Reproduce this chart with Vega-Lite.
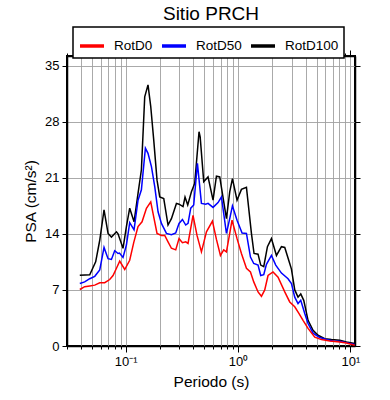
{
  "$schema": "https://vega.github.io/schema/vega-lite/v6.json",
  "width": 288,
  "height": 290,
  "autosize": {"type": "none"},
  "padding": {"left": 67, "top": 56, "right": 35, "bottom": 54},
  "background": "white",
  "title": {"text": "Sitio PRCH", "fontSize": 19, "fontWeight": "normal", "font": "Liberation Sans", "color": "black", "anchor": "middle", "offset": 2},
  "config": {
    "font": "Liberation Sans",
    "view": {"stroke": "black", "strokeWidth": 2},
    "legend": {"strokeColor": "black", "strokeWidth": 1.5},
    "axis": {"domainColor": "black", "domainWidth": 1.5, "tickColor": "black", "tickWidth": 1, "gridColor": "#a0a0a0", "gridWidth": 0.9, "labelFontSize": 13, "labelColor": "black", "titleFontSize": 15.5, "titleFontWeight": "normal", "titleColor": "black", "labelFont": "Liberation Sans", "titleFont": "Liberation Sans"}
  },
  "data": {"values": [
    {"T":0.039,"PSA":8.84,"s":"RotD100"},{"T":0.0478,"PSA":8.9,"s":"RotD100"},{"T":0.054,"PSA":10.5,"s":"RotD100"},{"T":0.0587,"PSA":13.2,"s":"RotD100"},{"T":0.0641,"PSA":17.0,"s":"RotD100"},{"T":0.0696,"PSA":14.05,"s":"RotD100"},{"T":0.0746,"PSA":13.6,"s":"RotD100"},{"T":0.0827,"PSA":14.25,"s":"RotD100"},{"T":0.0854,"PSA":14.0,"s":"RotD100"},{"T":0.0946,"PSA":12.2,"s":"RotD100"},{"T":0.1014,"PSA":14.9,"s":"RotD100"},{"T":0.1085,"PSA":17.2,"s":"RotD100"},{"T":0.1186,"PSA":15.5,"s":"RotD100"},{"T":0.1287,"PSA":19.05,"s":"RotD100"},{"T":0.1379,"PSA":22.0,"s":"RotD100"},{"T":0.1476,"PSA":31.1,"s":"RotD100"},{"T":0.1579,"PSA":32.6,"s":"RotD100"},{"T":0.167,"PSA":29.9,"s":"RotD100"},{"T":0.1776,"PSA":25.7,"s":"RotD100"},{"T":0.19,"PSA":20.7,"s":"RotD100"},{"T":0.2009,"PSA":18.6,"s":"RotD100"},{"T":0.2181,"PSA":18.4,"s":"RotD100"},{"T":0.238,"PSA":15.1,"s":"RotD100"},{"T":0.2552,"PSA":15.9,"s":"RotD100"},{"T":0.2828,"PSA":17.8,"s":"RotD100"},{"T":0.2983,"PSA":17.7,"s":"RotD100"},{"T":0.3238,"PSA":17.4,"s":"RotD100"},{"T":0.3373,"PSA":18.6,"s":"RotD100"},{"T":0.3565,"PSA":17.6,"s":"RotD100"},{"T":0.3846,"PSA":19.25,"s":"RotD100"},{"T":0.4115,"PSA":20.3,"s":"RotD100"},{"T":0.4494,"PSA":26.75,"s":"RotD100"},{"T":0.46,"PSA":26.1,"s":"RotD100"},{"T":0.495,"PSA":20.5,"s":"RotD100"},{"T":0.5406,"PSA":21.1,"s":"RotD100"},{"T":0.599,"PSA":18.2,"s":"RotD100"},{"T":0.6422,"PSA":21.2,"s":"RotD100"},{"T":0.6871,"PSA":21.1,"s":"RotD100"},{"T":0.7883,"PSA":15.9,"s":"RotD100"},{"T":0.8434,"PSA":19.25,"s":"RotD100"},{"T":0.8916,"PSA":20.9,"s":"RotD100"},{"T":0.9797,"PSA":18.2,"s":"RotD100"},{"T":1.072,"PSA":19.55,"s":"RotD100"},{"T":1.188,"PSA":19.8,"s":"RotD100"},{"T":1.316,"PSA":14.05,"s":"RotD100"},{"T":1.388,"PSA":11.55,"s":"RotD100"},{"T":1.507,"PSA":11.46,"s":"RotD100"},{"T":1.592,"PSA":10.1,"s":"RotD100"},{"T":1.694,"PSA":9.9,"s":"RotD100"},{"T":1.827,"PSA":12.4,"s":"RotD100"},{"T":1.983,"PSA":13.4,"s":"RotD100"},{"T":2.198,"PSA":11.3,"s":"RotD100"},{"T":2.435,"PSA":12.4,"s":"RotD100"},{"T":2.606,"PSA":12.3,"s":"RotD100"},{"T":2.886,"PSA":10.3,"s":"RotD100"},{"T":2.989,"PSA":9.6,"s":"RotD100"},{"T":3.198,"PSA":7.0,"s":"RotD100"},{"T":3.421,"PSA":6.1,"s":"RotD100"},{"T":3.617,"PSA":6.5,"s":"RotD100"},{"T":3.846,"PSA":5.7,"s":"RotD100"},{"T":4.201,"PSA":3.2,"s":"RotD100"},{"T":4.655,"PSA":1.96,"s":"RotD100"},{"T":5.157,"PSA":1.34,"s":"RotD100"},{"T":5.916,"PSA":0.92,"s":"RotD100"},{"T":6.788,"PSA":0.8,"s":"RotD100"},{"T":8.045,"PSA":0.71,"s":"RotD100"},{"T":9.233,"PSA":0.5,"s":"RotD100"},{"T":10.94,"PSA":0.3,"s":"RotD100"},
    {"T":0.039,"PSA":7.8,"s":"RotD50"},{"T":0.0431,"PSA":8.0,"s":"RotD50"},{"T":0.0478,"PSA":8.4,"s":"RotD50"},{"T":0.053,"PSA":8.7,"s":"RotD50"},{"T":0.0587,"PSA":9.5,"s":"RotD50"},{"T":0.0641,"PSA":12.3,"s":"RotD50"},{"T":0.0696,"PSA":10.9,"s":"RotD50"},{"T":0.0746,"PSA":10.8,"s":"RotD50"},{"T":0.0798,"PSA":11.9,"s":"RotD50"},{"T":0.0854,"PSA":11.55,"s":"RotD50"},{"T":0.088,"PSA":11.6,"s":"RotD50"},{"T":0.0946,"PSA":11.05,"s":"RotD50"},{"T":0.1014,"PSA":12.6,"s":"RotD50"},{"T":0.1085,"PSA":15.4,"s":"RotD50"},{"T":0.1186,"PSA":14.5,"s":"RotD50"},{"T":0.1287,"PSA":18.2,"s":"RotD50"},{"T":0.1379,"PSA":19.5,"s":"RotD50"},{"T":0.1497,"PSA":24.7,"s":"RotD50"},{"T":0.1579,"PSA":24.05,"s":"RotD50"},{"T":0.1694,"PSA":22.4,"s":"RotD50"},{"T":0.1813,"PSA":19.9,"s":"RotD50"},{"T":0.194,"PSA":16.75,"s":"RotD50"},{"T":0.2079,"PSA":15.3,"s":"RotD50"},{"T":0.2304,"PSA":14.05,"s":"RotD50"},{"T":0.2552,"PSA":13.9,"s":"RotD50"},{"T":0.2787,"PSA":14.1,"s":"RotD50"},{"T":0.2983,"PSA":15.3,"s":"RotD50"},{"T":0.3198,"PSA":15.8,"s":"RotD50"},{"T":0.3422,"PSA":15.1,"s":"RotD50"},{"T":0.3587,"PSA":15.3,"s":"RotD50"},{"T":0.3792,"PSA":17.2,"s":"RotD50"},{"T":0.4031,"PSA":17.6,"s":"RotD50"},{"T":0.4349,"PSA":22.8,"s":"RotD50"},{"T":0.4721,"PSA":17.8,"s":"RotD50"},{"T":0.5159,"PSA":17.7,"s":"RotD50"},{"T":0.5406,"PSA":17.8,"s":"RotD50"},{"T":0.599,"PSA":17.3,"s":"RotD50"},{"T":0.6636,"PSA":17.9,"s":"RotD50"},{"T":0.7116,"PSA":18.6,"s":"RotD50"},{"T":0.7883,"PSA":14.05,"s":"RotD50"},{"T":0.8434,"PSA":15.9,"s":"RotD50"},{"T":0.8916,"PSA":17.5,"s":"RotD50"},{"T":0.9797,"PSA":15.7,"s":"RotD50"},{"T":1.086,"PSA":14.1,"s":"RotD50"},{"T":1.188,"PSA":14.05,"s":"RotD50"},{"T":1.29,"PSA":11.1,"s":"RotD50"},{"T":1.38,"PSA":10.3,"s":"RotD50"},{"T":1.507,"PSA":10.1,"s":"RotD50"},{"T":1.592,"PSA":8.8,"s":"RotD50"},{"T":1.694,"PSA":8.9,"s":"RotD50"},{"T":1.79,"PSA":10.2,"s":"RotD50"},{"T":1.983,"PSA":11.3,"s":"RotD50"},{"T":2.166,"PSA":10.1,"s":"RotD50"},{"T":2.435,"PSA":9.1,"s":"RotD50"},{"T":2.788,"PSA":8.4,"s":"RotD50"},{"T":2.989,"PSA":7.8,"s":"RotD50"},{"T":3.198,"PSA":6.1,"s":"RotD50"},{"T":3.421,"PSA":5.3,"s":"RotD50"},{"T":3.617,"PSA":5.7,"s":"RotD50"},{"T":3.926,"PSA":4.05,"s":"RotD50"},{"T":4.201,"PSA":2.8,"s":"RotD50"},{"T":4.655,"PSA":1.6,"s":"RotD50"},{"T":5.34,"PSA":1.05,"s":"RotD50"},{"T":6.127,"PSA":0.8,"s":"RotD50"},{"T":7.018,"PSA":0.63,"s":"RotD50"},{"T":8.045,"PSA":0.6,"s":"RotD50"},{"T":9.233,"PSA":0.42,"s":"RotD50"},{"T":10.94,"PSA":0.2,"s":"RotD50"},
    {"T":0.039,"PSA":7.05,"s":"RotD0"},{"T":0.0431,"PSA":7.4,"s":"RotD0"},{"T":0.0478,"PSA":7.5,"s":"RotD0"},{"T":0.053,"PSA":7.6,"s":"RotD0"},{"T":0.0587,"PSA":7.9,"s":"RotD0"},{"T":0.065,"PSA":7.9,"s":"RotD0"},{"T":0.072,"PSA":8.3,"s":"RotD0"},{"T":0.0771,"PSA":8.8,"s":"RotD0"},{"T":0.0827,"PSA":9.7,"s":"RotD0"},{"T":0.0884,"PSA":10.6,"s":"RotD0"},{"T":0.098,"PSA":9.55,"s":"RotD0"},{"T":0.1085,"PSA":10.7,"s":"RotD0"},{"T":0.1178,"PSA":12.9,"s":"RotD0"},{"T":0.1287,"PSA":14.9,"s":"RotD0"},{"T":0.1397,"PSA":15.5,"s":"RotD0"},{"T":0.1529,"PSA":17.2,"s":"RotD0"},{"T":0.167,"PSA":18.0,"s":"RotD0"},{"T":0.175,"PSA":16.55,"s":"RotD0"},{"T":0.19,"PSA":14.05,"s":"RotD0"},{"T":0.2079,"PSA":13.8,"s":"RotD0"},{"T":0.2226,"PSA":13.8,"s":"RotD0"},{"T":0.238,"PSA":13.0,"s":"RotD0"},{"T":0.2552,"PSA":12.2,"s":"RotD0"},{"T":0.2787,"PSA":12.0,"s":"RotD0"},{"T":0.2983,"PSA":13.4,"s":"RotD0"},{"T":0.3198,"PSA":12.9,"s":"RotD0"},{"T":0.3422,"PSA":13.0,"s":"RotD0"},{"T":0.3587,"PSA":12.8,"s":"RotD0"},{"T":0.3974,"PSA":16.3,"s":"RotD0"},{"T":0.4313,"PSA":13.8,"s":"RotD0"},{"T":0.4721,"PSA":11.75,"s":"RotD0"},{"T":0.5233,"PSA":14.25,"s":"RotD0"},{"T":0.5916,"PSA":15.6,"s":"RotD0"},{"T":0.6422,"PSA":13.3,"s":"RotD0"},{"T":0.6972,"PSA":11.3,"s":"RotD0"},{"T":0.7456,"PSA":12.0,"s":"RotD0"},{"T":0.7883,"PSA":11.75,"s":"RotD0"},{"T":0.8434,"PSA":14.05,"s":"RotD0"},{"T":0.8843,"PSA":15.7,"s":"RotD0"},{"T":0.9797,"PSA":13.4,"s":"RotD0"},{"T":1.072,"PSA":11.55,"s":"RotD0"},{"T":1.188,"PSA":9.7,"s":"RotD0"},{"T":1.29,"PSA":9.25,"s":"RotD0"},{"T":1.38,"PSA":8.0,"s":"RotD0"},{"T":1.507,"PSA":6.75,"s":"RotD0"},{"T":1.616,"PSA":6.2,"s":"RotD0"},{"T":1.729,"PSA":7.0,"s":"RotD0"},{"T":1.85,"PSA":8.8,"s":"RotD0"},{"T":2.049,"PSA":9.25,"s":"RotD0"},{"T":2.271,"PSA":8.6,"s":"RotD0"},{"T":2.606,"PSA":6.75,"s":"RotD0"},{"T":2.886,"PSA":5.5,"s":"RotD0"},{"T":3.198,"PSA":4.9,"s":"RotD0"},{"T":3.493,"PSA":4.05,"s":"RotD0"},{"T":3.792,"PSA":3.2,"s":"RotD0"},{"T":4.201,"PSA":2.2,"s":"RotD0"},{"T":4.82,"PSA":1.1,"s":"RotD0"},{"T":5.529,"PSA":0.8,"s":"RotD0"},{"T":6.556,"PSA":0.63,"s":"RotD0"},{"T":8.045,"PSA":0.5,"s":"RotD0"},{"T":9.233,"PSA":0.38,"s":"RotD0"},{"T":10.94,"PSA":0.1,"s":"RotD0"}
  ]},
  "layer": [
    {
      "mark": {"type": "line", "strokeWidth": 1.5, "clip": true},
      "encoding": {
        "x": {"field": "T", "type": "quantitative",
          "scale": {"type": "log", "domain": [0.03, 11], "nice": false},
          "axis": {"orient": "bottom", "title": "Periodo (s)", "titlePadding": 6,
            "values": [0.03,0.04,0.05,0.06,0.07,0.08,0.09,0.1,0.2,0.3,0.4,0.5,0.6,0.7,0.8,0.9,1,2,3,4,5,6,7,8,9,10],
            "labelExpr": "datum.value == 0.1 ? '10⁻¹' : datum.value == 1 ? '10⁰' : datum.value == 10 ? '10¹' : ''",
            "grid": true, "tickSize": {"condition": {"test": "datum.value == 0.1 || datum.value == 1 || datum.value == 10", "value": 6}, "value": 3},
            "labelPadding": 3, "labelFlush": false}},
        "y": {"field": "PSA", "type": "quantitative",
          "scale": {"domain": [0, 36.2], "nice": false, "zero": true},
          "axis": {"orient": "left", "title": "PSA (cm/s²)", "values": [0, 7, 14, 21, 28, 35], "grid": true, "tickSize": 5, "labelPadding": 3, "titlePadding": 6}},
        "color": {"field": "s", "type": "nominal",
          "scale": {"domain": ["RotD0", "RotD50", "RotD100"], "range": ["#ff0000", "#0000ff", "#000000"]},
          "legend": {"title": null, "orient": "none", "legendX": 6, "legendY": -29, "direction": "horizontal",
            "strokeColor": "black", "fillColor": "white", "padding": 5,
            "symbolType": "stroke", "symbolStrokeWidth": 3.5, "symbolSize": 576, "labelFontSize": 13.5, "labelColor": "black",
            "labelOffset": 8, "columnPadding": 2, "labelFont": "Liberation Sans"}}
      }
    },
    {
      "mark": {"type": "point", "opacity": 0},
      "encoding": {
        "x": {"field": "T", "type": "quantitative",
          "axis": {"orient": "top", "title": null, "labels": false, "grid": false,
            "values": [0.03,0.04,0.05,0.06,0.07,0.08,0.09,0.1,0.2,0.3,0.4,0.5,0.6,0.7,0.8,0.9,1,2,3,4,5,6,7,8,9,10],
            "tickSize": {"condition": {"test": "datum.value == 0.1 || datum.value == 1 || datum.value == 10", "value": 6}, "value": 3}}},
        "y": {"field": "PSA", "type": "quantitative",
          "axis": {"orient": "right", "title": null, "labels": false, "grid": false, "values": [0, 7, 14, 21, 28, 35], "tickSize": 5}}
      }
    }
  ],
  "resolve": {"axis": {"x": "independent", "y": "independent"}}
}
